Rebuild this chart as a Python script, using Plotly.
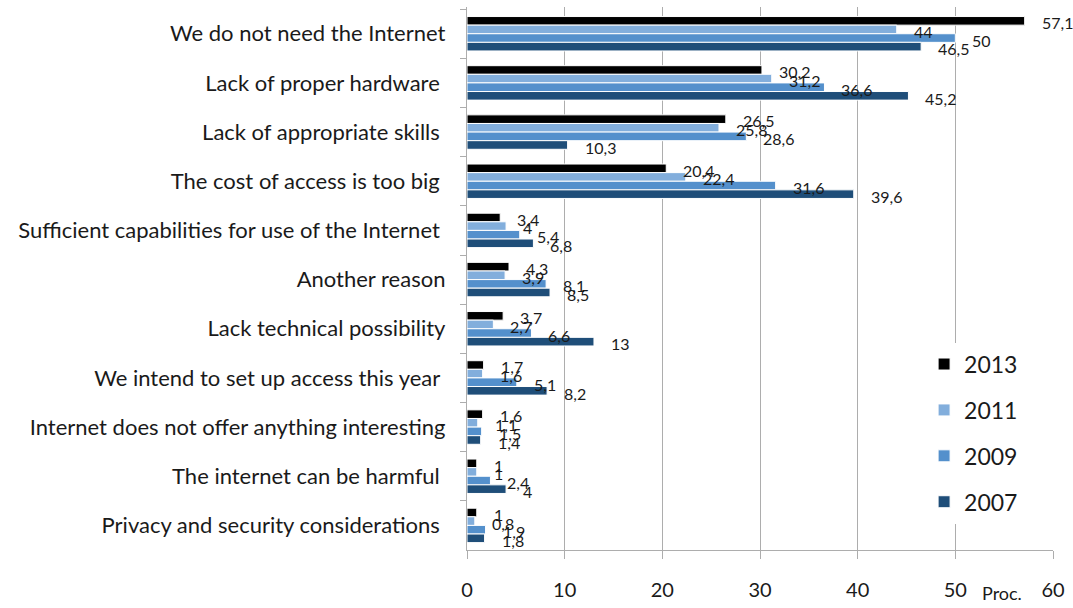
import plotly.graph_objects as go

# Reasons for not having Internet access at home, share of households (%)
categories = [
    "We do not need the Internet",
    "Lack of proper hardware\u00a0",
    "Lack of appropriate skills\u00a0",
    "The cost of access is too big\u00a0",
    "Sufficient capabilities for use of the Internet\u00a0",
    "Another reason",
    "Lack technical possibility",
    "We intend to set up access this year\u00a0",
    "Internet does not offer anything interesting",
    "The internet can be harmful\u00a0",
    "Privacy and security considerations\u00a0",
]

years = ["2013", "2011", "2009", "2007"]
values_2013 = [57.1, 30.2, 26.5, 20.4, 3.4, 4.3, 3.7, 1.7, 1.6, 1.0, 1.0]
values_2011 = [44.0, 31.2, 25.8, 22.4, 4.0, 3.9, 2.7, 1.6, 1.1, 1.0, 0.8]
values_2009 = [50.0, 36.6, 28.6, 31.6, 5.4, 8.1, 6.6, 5.1, 1.5, 2.4, 1.9]
values_2007 = [46.5, 45.2, 10.3, 39.6, 6.8, 8.5, 13.0, 8.2, 1.4, 4.0, 1.8]
series = [values_2013, values_2011, values_2009, values_2007]
colors = ["#000000", "#82AEDC", "#5490CC", "#1F4E79"]

x_ticks = [0, 10, 20, 30, 40, 50, 60]

W, H = 1073, 608
M_L, M_R, M_T, M_B = 467, 20, 7, 46
BARGAP = 0.3
FONT = "Lato"
GRID = "#ADADAD"

fig = go.Figure()
for year, vals, col in zip(years, series, colors):
    fig.add_trace(go.Bar(
        y=categories, x=vals, name=year, orientation="h",
        marker=dict(color=col, line=dict(color="white", width=1)),
        legendgroup=year,
    ))

# value labels to the right of each bar, decimal comma
plot_h = H - M_T - M_B
band = plot_h / len(categories)
bar_px = band * (1 - BARGAP) / len(years)
annotations = []
for i, vals in enumerate(series):
    for cat, v in zip(categories, vals):
        annotations.append(dict(
            x=v, y=cat, xref="x", yref="y",
            text=f"{v:g}".replace(".", ","),
            showarrow=False, xanchor="left", yanchor="middle",
            xshift=15, yshift=-(i - 1.5) * bar_px - 2,
            font=dict(family=FONT, size=16, color="#1a1a1a"),
        ))
annotations.append(dict(
    x=0.913, y=-0.08, xref="paper", yref="paper", text="Proc.",
    showarrow=False, xanchor="center", yanchor="middle",
    font=dict(family=FONT, size=18, color="#1a1a1a"),
))

fig.update_layout(
    width=W, height=H,
    margin=dict(l=M_L, r=M_R, t=M_T, b=M_B, pad=0),
    paper_bgcolor="white", plot_bgcolor="white",
    barmode="group", bargap=BARGAP, bargroupgap=0,
    font=dict(family=FONT, color="#1a1a1a"),
    annotations=annotations,
    legend=dict(
        x=0.78, y=0.382, xanchor="left", yanchor="top",
        bgcolor="white", font=dict(family=FONT, size=23, color="#1a1a1a"),
        tracegroupgap=13, traceorder="grouped",
    ),
    xaxis=dict(
        range=[0, 60], tickvals=x_ticks, showgrid=True, gridcolor=GRID, gridwidth=1.3,
        showline=True, linecolor=GRID, linewidth=1.3,
        ticks="outside", ticklen=8, tickcolor=GRID, tickwidth=1.3,
        tickfont=dict(family=FONT, size=20, color="#1a1a1a"),
        ticklabelstandoff=14, zeroline=False, fixedrange=True,
    ),
    yaxis=dict(
        autorange="reversed", showgrid=False,
        showline=True, linecolor=GRID, linewidth=1.3,
        ticks="outside", ticklen=6, tickcolor=GRID, tickwidth=1.3,
        tickson="boundaries",
        tickfont=dict(family=FONT, size=22, color="#1a1a1a"),
        ticklabelstandoff=16, fixedrange=True,
    ),
)

fig.write_html("out.html")
